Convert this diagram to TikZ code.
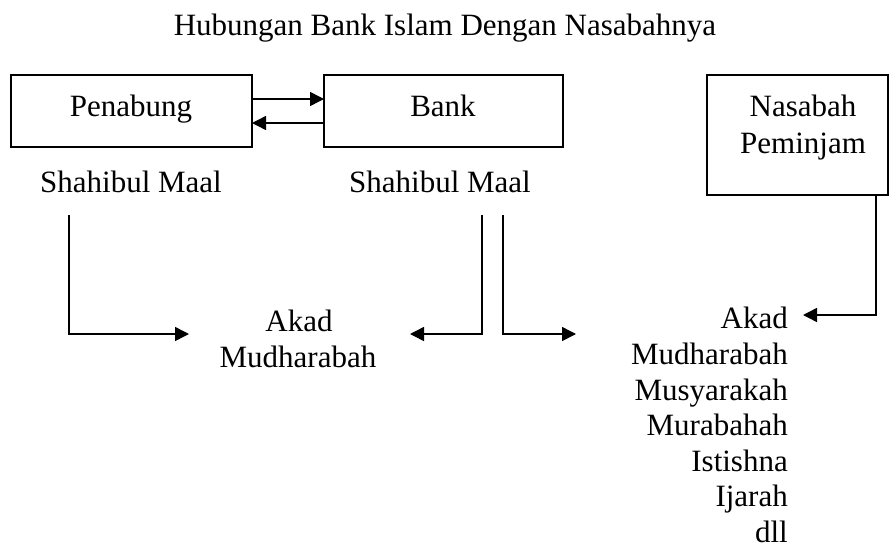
\documentclass[tikz,border=0pt]{standalone}
\usepackage{fontspec}
\setmainfont{Liberation Serif}
\usetikzlibrary{arrows.meta}
\begin{document}
\begin{tikzpicture}[x=1pt,y=-1pt,
  boxnode/.style={draw,line width=1.5pt,inner sep=0pt,outer sep=0pt},
  txt/.style={font=\fontsize{31}{36}\selectfont,inner sep=0pt,anchor=base},
  rtxt/.style={font=\fontsize{31}{36}\selectfont,inner sep=0pt,anchor=base east},
  arr/.style={line width=1.5pt,-{Triangle[length=14pt,width=14pt]}}]
\useasboundingbox (0,0) rectangle (890,554);
% title
\node[txt] (title) at (445,35) {Hubungan Bank Islam Dengan Nasabahnya};
% boxes
\node[boxnode,minimum width=241pt,minimum height=72pt] (pen) at (131.5,111) {};
\node[boxnode,minimum width=239pt,minimum height=72pt] (bank) at (443.5,111) {};
\node[boxnode,minimum width=181pt,minimum height=120pt] (nas) at (797.5,135) {};
\node[txt] (pent) at (131,116) {Penabung};
\node[txt] (bankt) at (443,116) {Bank};
\node[txt] (nas1) at (803,116) {Nasabah};
\node[txt] (nas2) at (803,153) {Peminjam};
% labels
\node[txt] (sm1) at (131,192) {Shahibul Maal};
\node[txt] (sm2) at (440,192) {Shahibul Maal};
% left akad
\node[txt] (akadL) at (299,331) {Akad};
\node[txt] (mudL) at (298,367) {Mudharabah};
% right list
\node[rtxt] (akadR) at (788,328) {Akad};
\node[rtxt] (r2) at (788,364) {Mudharabah};
\node[rtxt] (r3) at (788,400) {Musyarakah};
\node[rtxt] (r4) at (788,435) {Murabahah};
\node[rtxt] (r5) at (788,471) {Istishna};
\node[rtxt] (r6) at (788,506) {Ijarah};
\node[rtxt] (r7) at (788,542) {dll};
% top arrows
\draw[arr] ([yshift=12pt]pen.east) -- ([yshift=12pt]bank.west);
\draw[arr] ([yshift=-12pt]bank.west) -- ([yshift=-12pt]pen.east);
% connectors
\coordinate (s1) at (69,215);
\coordinate (e1) at (189,334);
\coordinate (s2) at (482,215);
\coordinate (e2) at (410,334);
\coordinate (s3) at (503,215);
\coordinate (e3) at (576,334);
\coordinate (s4) at (876,195);
\coordinate (e4) at (803,315);
\draw[arr] (s1) |- (e1);
\draw[arr] (s2) |- (e2);
\draw[arr] (s3) |- (e3);
\draw[arr] (s4) |- (e4);
\end{tikzpicture}
\end{document}
